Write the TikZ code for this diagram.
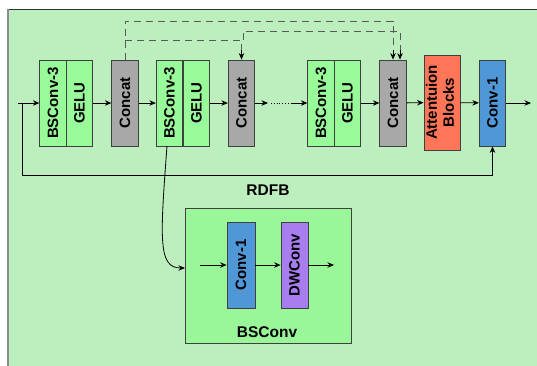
\documentclass[tikz,border=0pt]{standalone}
\usepackage{fontspec}
\setmainfont{Liberation Sans}
\usepackage{graphicx}
\usetikzlibrary{arrows.meta}
\definecolor{bgc}{RGB}{189,238,189}
\definecolor{grc}{RGB}{153,250,153}
\definecolor{gyc}{RGB}{168,168,168}
\definecolor{atc}{RGB}{255,117,87}
\definecolor{blc}{RGB}{79,151,214}
\definecolor{puc}{RGB}{167,125,240}
\definecolor{bsc}{RGB}{153,247,153}
\tikzset{
  blk/.style={draw=black!75, line width=0.8pt, minimum width=26.5pt, minimum height=86pt, inner sep=0pt,
    font=\fontsize{15}{17}\selectfont\bfseries},
  arr/.style={-{Stealth[length=6.5pt,width=5.5pt]}, line width=0.8pt, black},
  dsh/.style={dash pattern=on 7pt off 5pt, line width=0.8pt, black!65},
  lbl/.style={font=\fontsize{15.5}{17}\selectfont\bfseries, inner sep=0pt}
}
\begin{document}
\begin{tikzpicture}[x=1pt,y=-1pt]
\useasboundingbox (0,0) rectangle (537,365);
\fill[bgc] (8,9) rectangle (545,370);
\draw[line width=1pt, black!80] (545,9) -- (8,9);
\draw[line width=1.5pt, black!45] (8,9) -- (8,370);

% main row
\node[blk, fill=grc] (b1) at (53,103) {\rotatebox{90}{BSConv-3}};
\node[blk, fill=grc] (g1) at (79.5,103) {\rotatebox{90}{GELU}};
\node[blk, fill=gyc] (c1) at (125,103) {\rotatebox{90}{Concat}};
\node[blk, fill=grc] (b2) at (169.5,103) {\rotatebox{90}{BSConv-3}};
\node[blk, fill=grc] (g2) at (196.5,103) {\rotatebox{90}{GELU}};
\node[blk, fill=gyc] (c2) at (241.5,103) {\rotatebox{90}{Concat}};
\node[blk, fill=grc] (b3) at (321,103) {\rotatebox{90}{BSConv-3}};
\node[blk, fill=grc] (g3) at (347.5,103) {\rotatebox{90}{GELU}};
\node[blk, fill=gyc] (c3) at (393,103) {\rotatebox{90}{Concat}};
\node[blk, fill=atc, minimum width=36pt, minimum height=95pt] (att) at (442,102.5)
  {\rotatebox{90}{\begin{tabular}{@{}c@{}}Attentuion\\Blocks\end{tabular}}};
\node[blk, fill=blc] (cv) at (492.5,103) {\rotatebox{90}{Conv-1}};

\coordinate (in) at (18,103);
\coordinate (out) at (531,103);
\coordinate (tap) at (22,103);
\coordinate (d1) at (268,103);
\coordinate (d2) at (271,103);
\coordinate (d3) at (292,103);

\draw[arr] (in) -- (b1);
\draw[arr] (g1) -- (c1);
\draw[arr] (c1) -- (b2);
\draw[arr] (g2) -- (c2);
\draw[arr] (c2) -- (d1);
\draw[line width=0.8pt, dotted] (d2) -- (d3);
\draw[arr] (d3) -- (b3);
\draw[arr] (g3) -- (c3);
\draw[arr] (c3) -- (att);
\draw[arr] (att) -- (cv);
\draw[arr] (cv) -- (out);

% feedback
\draw[arr] (tap) |- (492.5,175) -- (cv.south);

% dashed skip connections
\coordinate (s1) at (c1.north);
\coordinate (t2) at (241.5,59.6);
\coordinate (t3a) at (393,59.6);
\coordinate (t3b) at (400,59.6);
\draw[dsh] (s1) -- (125,21) -- (393,21) -- (393,50);
\draw[arr] (393,50) -- (t3a);
\draw[dsh] (125,40) -- (241.5,40) -- (241.5,50);
\draw[arr] (241.5,50) -- (t2);
\draw[dsh] (243,40) -- (243,31) -- (400,31) -- (400,50);
\draw[arr] (400,50) -- (t3b);

\node[lbl] (rdfb) at (268,190) {RDFB};

% BSConv detail
\node[draw=black!75, line width=0.8pt, fill=bsc, minimum width=166pt, minimum height=135pt, inner sep=0pt] (bs) at (268,275.5) {};
\node[blk, fill=blc, minimum width=28pt] (k1) at (241,265) {\rotatebox{90}{Conv-1}};
\node[blk, fill=puc, minimum width=27pt] (dw) at (294.5,265) {\rotatebox{90}{DWConv}};
\coordinate (bin) at (200,265);
\coordinate (bout) at (334,265);
\draw[arr] (bin) -- (k1);
\draw[arr] (k1) -- (dw);
\draw[arr] (dw) -- (bout);
\node[lbl] (bsl) at (267,332) {BSConv};

\coordinate (cs) at (167,146);
\coordinate (ce) at (185,268);
\draw[arr] (cs) .. controls (160,240) and (158,268) .. (ce);
\end{tikzpicture}
\end{document}
